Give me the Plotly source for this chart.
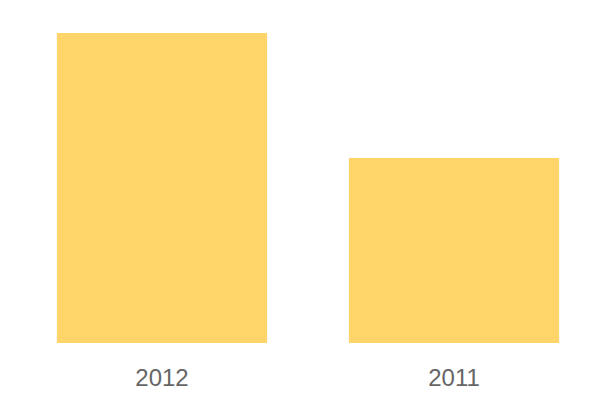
import plotly.graph_objects as go

years = ["2012", "2011"]
values = [62, 37]

fig = go.Figure(
    go.Bar(x=years, y=values, marker_color="#FFD469", marker_line_width=0)
)
fig.update_layout(
    width=600,
    height=400,
    margin=dict(l=8, r=8, t=25, b=65),
    bargap=0.28,
    plot_bgcolor="white",
    paper_bgcolor="white",
    showlegend=False,
    font=dict(family="Liberation Sans, Arial, sans-serif", size=24, color="#666666"),
)
fig.update_xaxes(showgrid=False, showline=False, ticks="", ticklabelstandoff=18)
fig.update_yaxes(visible=False, range=[0, 62])
fig.write_html("out.html")
